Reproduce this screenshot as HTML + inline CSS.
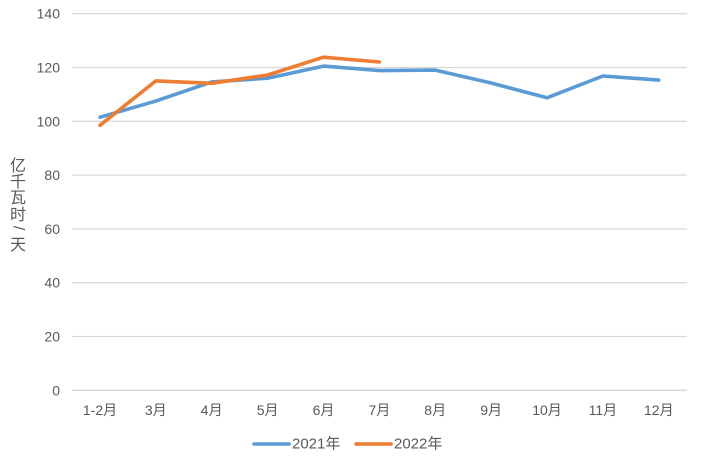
<!DOCTYPE html>
<html><head><meta charset="utf-8"><style>
html,body{margin:0;padding:0;background:#fff;}
svg{display:block;font-family:"Liberation Sans","Noto Sans CJK SC",sans-serif;}
</style></head><body>
<svg width="701" height="461" viewBox="0 0 701 461" xmlns="http://www.w3.org/2000/svg">
<rect width="701" height="461" fill="#fff"/>
<g stroke="#d9d9d9" stroke-width="1.3">
<line x1="72" x2="687" y1="13.7" y2="13.7"/>
<line x1="72" x2="687" y1="67.5" y2="67.5"/>
<line x1="72" x2="687" y1="121.3" y2="121.3"/>
<line x1="72" x2="687" y1="175.1" y2="175.1"/>
<line x1="72" x2="687" y1="228.9" y2="228.9"/>
<line x1="72" x2="687" y1="282.7" y2="282.7"/>
<line x1="72" x2="687" y1="336.5" y2="336.5"/>
<line x1="72" x2="687" y1="390.3" y2="390.3"/>
</g>
<g fill="#595959" font-size="14" text-anchor="end" dominant-baseline="central">
<text x="60" y="13.7">140</text>
<text x="60" y="67.5">120</text>
<text x="60" y="121.3">100</text>
<text x="60" y="175.1">80</text>
<text x="60" y="228.9">60</text>
<text x="60" y="282.7">40</text>
<text x="60" y="336.5">20</text>
<text x="60" y="390.3">0</text>
</g>
<g fill="#595959" font-size="14" text-anchor="middle" dominant-baseline="central">
<text x="100" y="410">1-2月</text>
<text x="155.8" y="410">3月</text>
<text x="211.7" y="410">4月</text>
<text x="267.6" y="410">5月</text>
<text x="323.5" y="410">6月</text>
<text x="379.4" y="410">7月</text>
<text x="435.2" y="410">8月</text>
<text x="491.1" y="410">9月</text>
<text x="547" y="410">10月</text>
<text x="602.9" y="410">11月</text>
<text x="658.8" y="410">12月</text>
</g>
<g fill="#595959" font-size="16" text-anchor="middle" dominant-baseline="central" font-family="'Noto Sans CJK SC',sans-serif">
<text x="18" y="164">亿</text>
<text x="18" y="180">千</text>
<text x="18" y="196">瓦</text>
<text x="18" y="213">时</text>
<text x="18" y="228" transform="rotate(90 18 228)" font-family="'Liberation Sans',sans-serif">/</text>
<text x="18" y="243">天</text>
</g>
<polyline fill="none" stroke="#5b9bd5" stroke-width="3.6" stroke-linejoin="round" stroke-linecap="round"
points="100,117.2 155.8,101.05 211.7,81.9 267.6,78.2 323.5,66.1 379.4,70.6 435.2,70.1 491.1,83.0 547,97.8 602.9,76.0 658.8,80.1"/>
<polyline fill="none" stroke="#ed7d31" stroke-width="3.6" stroke-linejoin="round" stroke-linecap="round"
points="100,125.3 155.8,80.9 211.7,83.3 267.6,75.0 323.5,57.2 379.4,62.0"/>
<line x1="254" x2="289" y1="444" y2="444" stroke="#5b9bd5" stroke-width="3.6" stroke-linecap="round"/>
<text x="292" y="444" fill="#595959" font-size="15" dominant-baseline="central">2021年</text>
<line x1="356" x2="391" y1="444" y2="444" stroke="#ed7d31" stroke-width="3.6" stroke-linecap="round"/>
<text x="394" y="444" fill="#595959" font-size="15" dominant-baseline="central">2022年</text>
</svg>
</body></html>
